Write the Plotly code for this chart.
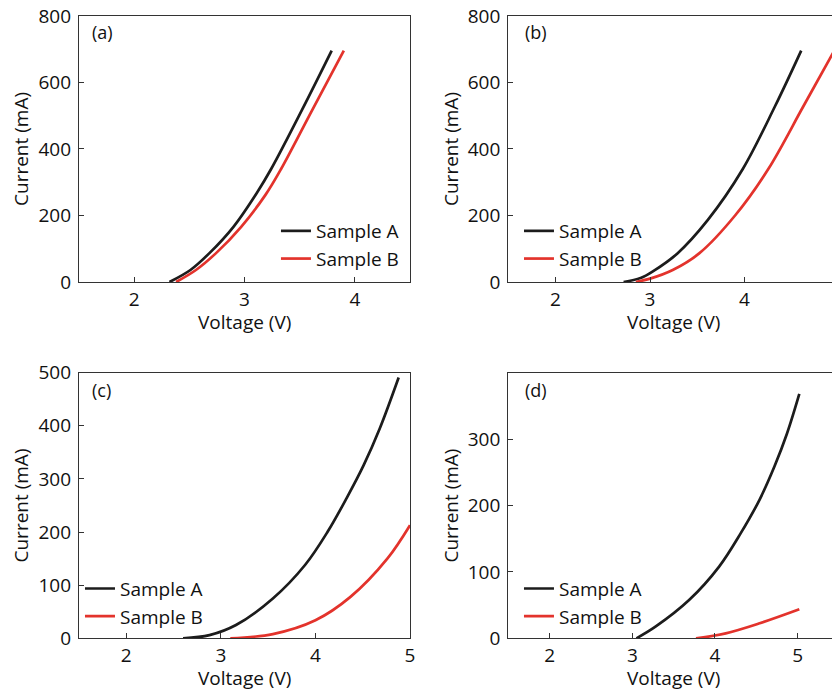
import plotly.graph_objects as go

# ---------------- data ----------------
# Panel (a)
a_A_V = [2.32, 2.51, 2.68, 2.90, 3.11, 3.24, 3.52, 3.79]
a_A_I = [0, 36, 86, 166, 267, 339, 517, 696]
a_B_V = [2.38, 2.56, 2.74, 2.97, 3.19, 3.33, 3.61, 3.90]
a_B_I = [0, 36, 86, 166, 262, 339, 515, 696]
# Panel (b)
b_A_V = [2.72, 2.90, 3.03, 3.29, 3.61, 3.98, 4.32, 4.60]
b_A_I = [0, 12, 32, 86, 186, 339, 527, 696]
b_B_V = [2.85, 3.00, 3.24, 3.52, 3.90, 4.25, 4.62, 4.95]
b_B_I = [0, 10, 36, 86, 200, 339, 527, 696]
# Panel (c)
c_A_V = [2.60, 2.88, 3.16, 3.55, 3.89, 4.13, 4.33, 4.51, 4.68, 4.88]
c_A_I = [0, 6, 25, 75, 138, 201, 264, 326, 395, 491]
c_B_V = [3.10, 3.55, 4.00, 4.37, 4.76, 5.00]
c_B_I = [0, 8, 34, 78, 150, 213]
# Panel (d)
d_A_V = [3.05, 3.28, 3.69, 4.05, 4.31, 4.54, 4.72, 4.87, 5.02]
d_A_I = [0, 17.5, 58, 108, 158, 209, 259, 308, 368]
d_B_V = [3.77, 4.13, 4.54, 5.02]
d_B_I = [0, 7.5, 22.6, 43.7]

series_names = ["Sample A", "Sample B"]
panel_labels = ["(a)", "(b)", "(c)", "(d)"]
x_title = "Voltage (V)"
y_title = "Current (mA)"

# ---------------- styles ----------------
FONT = "Open Sans"
TXT = "#111111"
BLACK = "#1c1c1c"
RED = "#e3332c"
AXC = "#333333"
LW = 2.7
FS = 19

fig = go.Figure()

panels = [
    (a_A_V, a_A_I, a_B_V, a_B_I),
    (b_A_V, b_A_I, b_B_V, b_B_I),
    (c_A_V, c_A_I, c_B_V, c_B_I),
    (d_A_V, d_A_I, d_B_V, d_B_I),
]
for k, (av, ai, bv, bi) in enumerate(panels):
    sfx = "" if k == 0 else str(k + 1)
    leg = "legend" + sfx
    for j, (v, i, col) in enumerate([(av, ai, BLACK), (bv, bi, RED)]):
        fig.add_trace(go.Scatter(
            x=v, y=i, mode="lines", name=series_names[j],
            line=dict(color=col, width=LW, shape="spline", smoothing=1.0),
            xaxis="x" + sfx, yaxis="y" + sfx, legend=leg,
        ))

xdom_l = [0.0845, 0.4786]
xdom_r = [0.5956, 0.9893]
ydom_t = [0.6035, 0.9884]
ydom_b = [0.0878, 0.4722]

def xax(dom, rng, tv, anchor):
    return dict(domain=dom, range=rng, tickvals=tv, anchor=anchor, automargin=False,
                showline=True, mirror=True, linecolor=AXC, linewidth=1.3,
                ticks="inside", ticklen=5, tickcolor=AXC, tickwidth=1.3,
                showgrid=False, zeroline=False, ticklabeloverflow="allow",
                tickfont=dict(size=FS, family=FONT, color=TXT))

def yax(dom, rng, tv, anchor):
    return dict(domain=dom, range=rng, tickvals=tv, anchor=anchor, automargin=False,
                showline=True, mirror=True, linecolor=AXC, linewidth=1.3,
                ticks="inside", ticklen=5, tickcolor=AXC, tickwidth=1.3,
                showgrid=False, zeroline=False, ticklabelstandoff=3,
                ticklabeloverflow="allow",
                tickfont=dict(size=FS, family=FONT, color=TXT),
                title=dict(text=y_title, font=dict(size=FS, family=FONT, color=TXT), standoff=4))

def legend(x, y):
    return dict(x=x, y=y, xanchor="left", yanchor="middle", xref="paper", yref="paper",
                bgcolor="rgba(0,0,0,0)", borderwidth=0, traceorder="normal",
                font=dict(size=FS, family=FONT, color=TXT))

fig.update_layout(
    width=840, height=691,
    margin=dict(l=0, r=0, t=0, b=0, autoexpand=False),
    paper_bgcolor="white", plot_bgcolor="white",
    font=dict(family=FONT, color=TXT),
    xaxis=xax(xdom_l, [1.5, 4.5], [2, 3, 4], "y"),
    yaxis=yax(ydom_t, [0, 800], [0, 200, 400, 600, 800], "x"),
    xaxis2=xax(xdom_r, [1.5, 5], [2, 3, 4, 5], "y2"),
    yaxis2=yax(ydom_t, [0, 800], [0, 200, 400, 600, 800], "x2"),
    xaxis3=xax(xdom_l, [1.5, 5], [2, 3, 4, 5], "y3"),
    yaxis3=yax(ydom_b, [0, 500], [0, 100, 200, 300, 400, 500], "x3"),
    xaxis4=xax(xdom_r, [1.5, 5.5], [2, 3, 4, 5], "y4"),
    yaxis4=yax(ydom_b, [0, 400], [0, 100, 200, 300], "x4"),
    legend=legend(0.319, 0.657),
    legend2=legend(0.6083, 0.657),
    legend3=legend(0.0857, 0.1394),
    legend4=legend(0.6083, 0.1394),
)

label_pos = [(0.0976, 0.9657), (0.613, 0.9657), (0.0976, 0.4472), (0.613, 0.4472)]
for lab, (x, y) in zip(panel_labels, label_pos):
    fig.add_annotation(text=lab, x=x, y=y, xref="paper", yref="paper",
                       xanchor="left", yanchor="middle", showarrow=False,
                       font=dict(size=18, family=FONT, color=TXT))

# x-axis titles centred under each panel
for dom_x, ty in [(xdom_l, 0.545), (xdom_r, 0.545), (xdom_l, 0.030), (xdom_r, 0.030)]:
    fig.add_annotation(text=x_title, x=(dom_x[0] + dom_x[1]) / 2, y=ty,
                       xref="paper", yref="paper", xanchor="center", yanchor="middle",
                       showarrow=False, font=dict(size=FS, family=FONT, color=TXT))

fig.write_html("out.html")
